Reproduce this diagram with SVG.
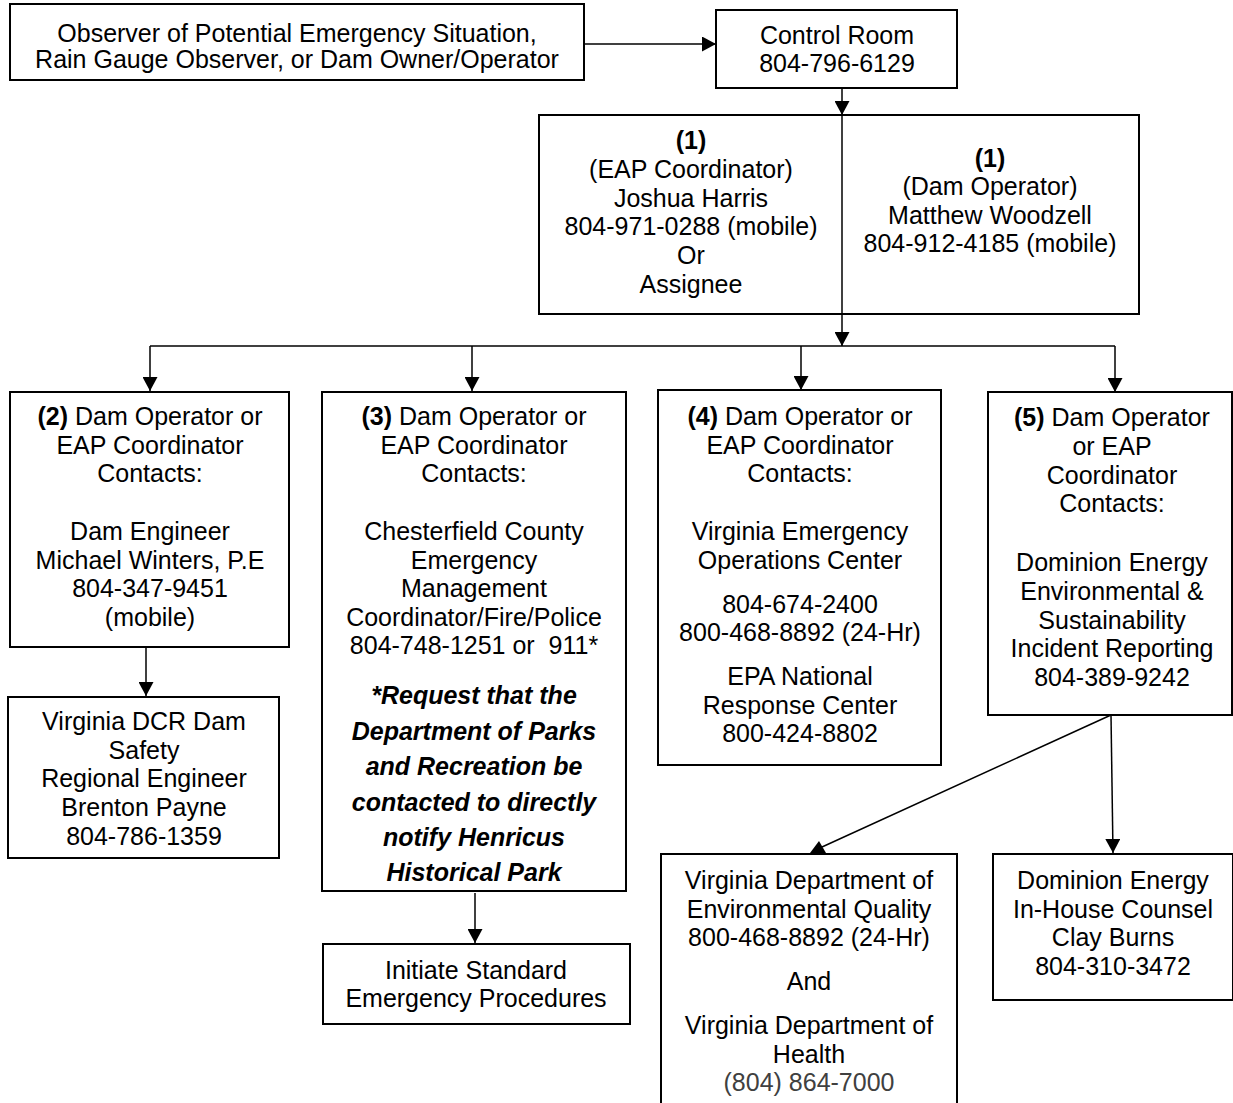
<svg xmlns="http://www.w3.org/2000/svg" width="1233" height="1103" viewBox="0 0 1233 1103">
<style>
.box{fill:#fff;stroke:#000;stroke-width:2}
.t{font-family:"Liberation Sans",Arial,sans-serif;font-size:25px;fill:#000;text-anchor:middle}
.b{font-weight:bold}
.bi{font-weight:bold;font-style:italic}
.c{stroke:#000;stroke-width:1.5;fill:none}
</style>
<defs>
<marker id="ah" markerUnits="userSpaceOnUse" markerWidth="14" markerHeight="15" refX="14" refY="7.5" orient="auto" viewBox="0 0 14 15">
<path d="M0,0 L14,7.5 L0,15 Z" fill="#000"/>
</marker>
</defs>
<rect width="1233" height="1103" fill="#fff"/>

<g id="connectors">
<line class="c" x1="584" y1="44" x2="716" y2="44" marker-end="url(#ah)"/>
<line class="c" x1="842" y1="88" x2="842" y2="115" marker-end="url(#ah)"/>
<line class="c" x1="842" y1="115" x2="842" y2="346" marker-end="url(#ah)"/>
<line class="c" x1="150" y1="346" x2="1115" y2="346"/>
<line class="c" x1="150" y1="346" x2="150" y2="391" marker-end="url(#ah)"/>
<line class="c" x1="472" y1="346" x2="472" y2="391" marker-end="url(#ah)"/>
<line class="c" x1="801" y1="346" x2="801" y2="390" marker-end="url(#ah)"/>
<line class="c" x1="1115" y1="346" x2="1115" y2="392" marker-end="url(#ah)"/>
<line class="c" x1="146" y1="647" x2="146" y2="696" marker-end="url(#ah)"/>
<line class="c" x1="475" y1="893" x2="475" y2="943" marker-end="url(#ah)"/>
<line class="c" x1="1111" y1="715" x2="822" y2="847"/>
<polygon points="810,853 826,853 819,841" fill="#000"/>
<line class="c" x1="1111" y1="715" x2="1113" y2="853" marker-end="url(#ah)"/>
</g>

<g id="observer">
<rect class="box" x="10" y="4" width="574" height="76"/>
<text class="t" x="297" y="42">Observer of Potential Emergency Situation,</text>
<text class="t" x="297" y="68">Rain Gauge Observer, or Dam Owner/Operator</text>
</g>

<g id="control-room">
<rect class="box" x="716" y="10" width="241" height="78"/>
<text class="t" x="837" y="44">Control Room</text>
<text class="t" x="837" y="72">804-796-6129</text>
</g>

<g id="step1">
<rect class="box" x="539" y="115" width="600" height="199"/>
<line class="c" x1="842" y1="115" x2="842" y2="314"/>
<text class="t b" x="691" y="149">(1)</text>
<text class="t" x="691" y="178">(EAP Coordinator)</text>
<text class="t" x="691" y="207">Joshua Harris</text>
<text class="t" x="691" y="235">804-971-0288 (mobile)</text>
<text class="t" x="691" y="264">Or</text>
<text class="t" x="691" y="293">Assignee</text>
<text class="t b" x="990" y="167">(1)</text>
<text class="t" x="990" y="195">(Dam Operator)</text>
<text class="t" x="990" y="224">Matthew Woodzell</text>
<text class="t" x="990" y="252">804-912-4185 (mobile)</text>
</g>

<g id="step2">
<rect class="box" x="10" y="392" width="279" height="255"/>
<text class="t" x="150" y="425"><tspan class="b">(2)</tspan> Dam Operator or</text>
<text class="t" x="150" y="454">EAP Coordinator</text>
<text class="t" x="150" y="482">Contacts:</text>
<text class="t" x="150" y="540">Dam Engineer</text>
<text class="t" x="150" y="569">Michael Winters, P.E</text>
<text class="t" x="150" y="597">804-347-9451</text>
<text class="t" x="150" y="626">(mobile)</text>
</g>

<g id="dcr">
<rect class="box" x="8" y="697" width="271" height="161"/>
<text class="t" x="144" y="730">Virginia DCR Dam</text>
<text class="t" x="144" y="759">Safety</text>
<text class="t" x="144" y="787">Regional Engineer</text>
<text class="t" x="144" y="816">Brenton Payne</text>
<text class="t" x="144" y="845">804-786-1359</text>
</g>

<g id="step3">
<rect class="box" x="322" y="392" width="304" height="499"/>
<text class="t" x="474" y="425"><tspan class="b">(3)</tspan> Dam Operator or</text>
<text class="t" x="474" y="454">EAP Coordinator</text>
<text class="t" x="474" y="482">Contacts:</text>
<text class="t" x="474" y="540">Chesterfield County</text>
<text class="t" x="474" y="569">Emergency</text>
<text class="t" x="474" y="597">Management</text>
<text class="t" x="474" y="626">Coordinator/Fire/Police</text>
<text class="t" x="474" y="654" xml:space="preserve">804-748-1251 or  911*</text>
<text class="t bi" x="474" y="704">*Request that the</text>
<text class="t bi" x="474" y="740">Department of Parks</text>
<text class="t bi" x="474" y="775">and Recreation be</text>
<text class="t bi" x="474" y="811">contacted to directly</text>
<text class="t bi" x="474" y="846">notify Henricus</text>
<text class="t bi" x="474" y="881">Historical Park</text>
</g>

<g id="initiate">
<rect class="box" x="323" y="944" width="307" height="80"/>
<text class="t" x="476" y="979">Initiate Standard</text>
<text class="t" x="476" y="1007">Emergency Procedures</text>
</g>

<g id="step4">
<rect class="box" x="658" y="390" width="283" height="375"/>
<text class="t" x="800" y="425"><tspan class="b">(4)</tspan> Dam Operator or</text>
<text class="t" x="800" y="454">EAP Coordinator</text>
<text class="t" x="800" y="482">Contacts:</text>
<text class="t" x="800" y="540">Virginia Emergency</text>
<text class="t" x="800" y="569">Operations Center</text>
<text class="t" x="800" y="613">804-674-2400</text>
<text class="t" x="800" y="641">800-468-8892 (24-Hr)</text>
<text class="t" x="800" y="685">EPA National</text>
<text class="t" x="800" y="714">Response Center</text>
<text class="t" x="800" y="742">800-424-8802</text>
</g>

<g id="step5">
<rect class="box" x="988" y="392" width="244" height="323"/>
<text class="t" x="1112" y="426"><tspan class="b">(5)</tspan> Dam Operator</text>
<text class="t" x="1112" y="455">or EAP</text>
<text class="t" x="1112" y="484">Coordinator</text>
<text class="t" x="1112" y="512">Contacts:</text>
<text class="t" x="1112" y="571">Dominion Energy</text>
<text class="t" x="1112" y="600">Environmental &amp;</text>
<text class="t" x="1112" y="629">Sustainability</text>
<text class="t" x="1112" y="657">Incident Reporting</text>
<text class="t" x="1112" y="686">804-389-9242</text>
</g>

<g id="deq">
<rect class="box" x="661" y="854" width="296" height="260"/>
<text class="t" x="809" y="889">Virginia Department of</text>
<text class="t" x="809" y="918">Environmental Quality</text>
<text class="t" x="809" y="946">800-468-8892 (24-Hr)</text>
<text class="t" x="809" y="990">And</text>
<text class="t" x="809" y="1034">Virginia Department of</text>
<text class="t" x="809" y="1063">Health</text>
<text class="t" x="809" y="1091" style="fill:#404040">(804) 864-7000</text>
</g>

<g id="counsel">
<rect class="box" x="993" y="854" width="240" height="146"/>
<text class="t" x="1113" y="889">Dominion Energy</text>
<text class="t" x="1113" y="918">In-House Counsel</text>
<text class="t" x="1113" y="946">Clay Burns</text>
<text class="t" x="1113" y="975">804-310-3472</text>
</g>
</svg>
